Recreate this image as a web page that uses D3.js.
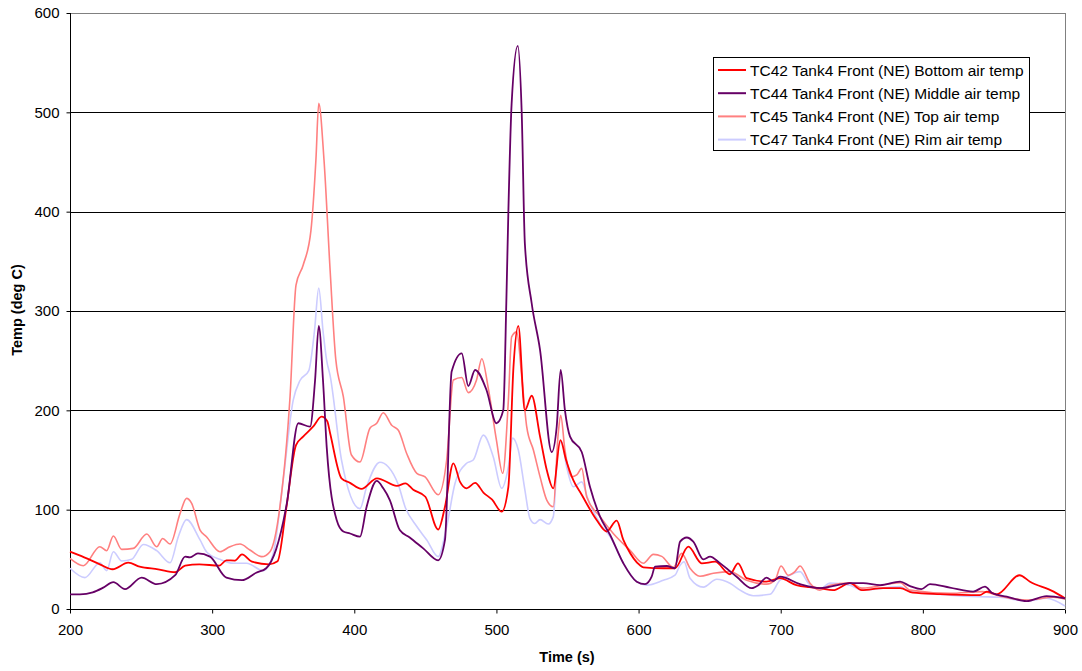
<!DOCTYPE html>
<html>
<head>
<meta charset="utf-8">
<script src="https://cdn.jsdelivr.net/npm/d3@7"></script>
<style>
  body { margin: 0; background: #fff; }
  svg { display: block; font-family: Arial, "Liberation Sans", sans-serif; }
</style>
</head>
<body>
<svg id="chart" width="1082" height="671"></svg>
<script>
// ---- Data ----
const seriesNames = [
  "TC42 Tank4 Front (NE) Bottom air temp",
  "TC44 Tank4 Front (NE) Middle air temp",
  "TC45 Tank4 Front (NE) Top air temp",
  "TC47 Tank4 Front (NE) Rim air temp"
];
const seriesColors = ["#FF0000", "#660066", "#FF8080", "#CCCCFF"];

const xTicks = [200, 300, 400, 500, 600, 700, 800, 900];
const yTicks = [0, 100, 200, 300, 400, 500, 600];

const tc42_t = [200,210,221,230,241,249,262,274,281,291,305,310,316,321,328,340,346,352,359,364,371,377,381,383,391,397,405,416,430,436,441.5,450,459,463.8,469.7,474.4,479,485,491,497,503.7,508.4,512,515.4,520,524.8,530.7,535.4,540,545,549,554,560,570.5,577.5,584.6,589.3,591.6,601,603.4,617.4,625.6,635,644.4,653.8,664.3,670,676,690,699.5,711,720,727.6,736.8,748.7,757,772,784,793,812,840,845,852,868,875.4,892,900];
const tc42_v = [57.7,52,45,40,46.6,42.6,40,37,43.6,45,43.6,49,48.7,55,47.6,45,48,100,165,173.5,183.5,193.6,189,177,131.6,127,121,131.6,124,126.5,120,113,80,103,146.7,128,121.5,127,117,110,98,123,244,285,200,214.7,173.5,140,121.5,170,150,130,115,89.6,78,89,69.5,62.7,44,42,41,41,62.7,46,47.6,35,46,31,27.5,31,24,22,21,19,26,19,21,21,16.4,15,14,17.5,14.8,34,27.5,17.5,10.8];

const tc44_t = [200,207,216,223.4,230.5,238.7,250.4,261,274,281,284.4,290,298.5,310,321,331,338,345,352.5,360.6,368.9,372.4,375,378,380.6,387.6,392.3,397,404,408.7,415.8,420.4,425,432,439,448.5,459,463.8,468.5,475.6,480.2,485,493,500,504.8,507,508.4,510.7,515,517.8,520,524.8,530.7,538.9,542.4,545.2,548.2,551.8,560,565.8,572.9,580,589.3,598.7,604.5,609.2,611.6,619.8,625.6,629.2,633.9,638.5,645.6,650.3,657.3,669,679.6,684.3,690,694.7,699.5,713.6,727.6,748.7,758,770,784,791,799,805,819,835.4,843.7,849,859,873,887,900];
const tc44_v = [14.8,14.8,16.8,21.5,27,20,31.6,25,34,52.7,52,56,52.7,31.6,29,36.5,41,60,106,187,183.5,230,285,230,163,89.6,78,76,72.8,103,128.9,121.5,109.7,79.5,72,61,49,69.5,239,257.4,224.5,240.6,220.5,187,200,311,400,509,567,499,368,307.8,260.7,158,183.5,240.6,200,173.5,158,123,93,74.5,46,27.5,25,32.5,42.6,43.3,41,67.8,72,67.8,50,52.7,46,32.5,21,24,31.6,28,32.5,25,21,26,26,24,27.5,23,20,25,21.5,17.5,22.5,15.8,12.4,8,13,10.8];

const tc45_t = [200,209.4,221,225.8,230.5,236.4,244.5,254,261,265.2,270.4,277.4,282,285.6,291.5,296,305.5,312.5,319.6,326.6,334.9,340.7,347.7,354.8,359,364,369.5,373,375,378.7,383,387,392.3,398,404,411,415.8,420.4,426.3,431,437,444,449.8,459,465,469.7,475.6,480.2,486,489.7,494.3,500,504.4,508.4,510.7,514.3,517.8,521.3,526,530.7,535.4,540,543.5,545.2,548.2,553,556.5,560,563.5,572.9,582.2,594,603.4,610.4,616.3,624.5,630.3,636.2,643.2,652.6,664.3,676,690,696,700.2,705.3,710,713.6,720.6,727.6,734.7,748.7,757,784,791,819,842,854,873,892,900];
const tc45_v = [51,43.6,62.7,58.7,73.5,60,61,75.5,62.7,71,65.4,96,111.4,106.4,79.5,72.8,57.7,62.7,65.4,59.4,52.7,57.7,103,213.7,326,346,381,452,509,452,341,251,213.7,155,148,182,187,197.6,185,180,156,136.6,133,115,150,230.5,233,217.8,230.5,252,222,170,136.6,210,274,279,234,183.5,160,133,109.7,103,177,195,160,133,135,141.6,113,93,76,59,46,55,53,42,56,41,33,36,37.6,29,25,29,43.3,34,37.6,43.3,26,19,24,26.5,21,26.5,19,15.8,17.5,13,9,11.8,9.8];

const tc47_t = [200,210.5,221,225.8,230.5,236.4,243.4,251.6,261,270.4,276.2,282,291.5,296,305.5,314.9,324.3,336,343,350,357,361.8,368,372,375,378,380.6,383,391,404,408.7,418,424,431,435.7,444,451,459,465,470.9,479,483.7,490.8,497.8,503.7,508.4,511.4,515.4,520,523.6,527,530.7,536.5,540,543.5,545.9,549.4,554.1,560,564.6,572.9,580,589.3,598.7,605.7,617.4,625.6,629.2,632,636.2,645.6,655,664.3,671.4,680.7,692.5,699.5,704.2,713.6,719.4,727.6,734.7,748.7,757,784,791,819,840,854,873,887,900];
const tc47_v = [41,31.6,46.6,38.6,57.7,48.3,50,65,58.7,46.6,72.8,90,69.5,57.7,50,46,46,38.6,56,130,210,230,240,280,323,280,250,235,150,101,123,147.7,143,125,103,83,69.5,52.7,83,126.5,146.7,150,175,153,121.5,143,172,160,120,91,86,90,85.6,93,163,168.5,143,123,128,109.7,86,72.8,46,27.5,24,29,34,44,47.6,31,22,30,26,19,13.4,14.8,29,32.5,37.6,26,20,26,24,19,22.5,17.5,14,12.4,11.8,8,10.8,3];

const allT = [tc42_t, tc44_t, tc45_t, tc47_t];
const allV = [tc42_v, tc44_v, tc45_v, tc47_v];

// ---- Layout ----
const svg = d3.select("#chart");
const pLeft = 70, pRight = 1065, pTop = 13, pBottom = 609;
const FONT = "Arial, 'Liberation Sans', sans-serif";

const x = d3.scaleLinear().domain([200, 900]).range([pLeft, pRight]);
const y = d3.scaleLinear().domain([0, 600]).range([pBottom, pTop]);

// gridlines
svg.append("g").selectAll("line").data(yTicks.filter(d => d > 0)).join("line")
  .attr("x1", pLeft).attr("x2", pRight)
  .attr("y1", d => Math.round(y(d)) + 0.5).attr("y2", d => Math.round(y(d)) + 0.5)
  .attr("stroke", d => d === 600 ? "#808080" : "#000").attr("stroke-width", 1);

// right border
svg.append("line").attr("x1", pRight + 0.5).attr("x2", pRight + 0.5)
  .attr("y1", pTop).attr("y2", pBottom).attr("stroke", "#808080");

// axes
const xAxis = d3.axisBottom(x).tickValues(xTicks).tickSize(4).tickPadding(11).tickFormat(d3.format("d"));
const gx = svg.append("g").attr("transform", `translate(0,${pBottom + 0.5})`).call(xAxis);
gx.select(".domain").attr("d", `M${pLeft},0H${pRight}`).attr("stroke", "#000");
gx.selectAll("text").attr("font-size", 15).attr("font-family", FONT).attr("fill", "#000");

const yAxis = d3.axisLeft(y).tickValues(yTicks).tickSize(4).tickPadding(7).tickFormat(d3.format("d"));
const gy = svg.append("g").attr("transform", `translate(${pLeft + 0.5},0)`).call(yAxis);
gy.select(".domain").attr("d", `M0,${pTop}V${pBottom}`).attr("stroke", "#000");
gy.selectAll("text").attr("font-size", 15).attr("font-family", FONT).attr("fill", "#000");

// series lines
const line = d3.line().x(d => x(d[0])).y(d => y(d[1])).curve(d3.curveMonotoneX);
const drawOrder = [3, 2, 0, 1];
drawOrder.forEach(i => {
  const pts = allT[i].map((t, k) => [t, allV[i][k]]);
  svg.append("path").datum(pts)
    .attr("d", line)
    .attr("fill", "none")
    .attr("stroke", seriesColors[i])
    .attr("stroke-width", i < 2 ? 1.8 : 1.6)
    .attr("stroke-linejoin", "round");
});

// axis titles
svg.append("text").attr("x", 567).attr("y", 662)
  .attr("text-anchor", "middle").attr("font-size", 14.5).attr("font-weight", "bold")
  .attr("font-family", FONT).text("Time (s)");
svg.append("text").attr("transform", "translate(22,310) rotate(-90)")
  .attr("text-anchor", "middle").attr("font-size", 14.5).attr("font-weight", "bold")
  .attr("font-family", FONT).text("Temp (deg C)");

// legend
const lg = svg.append("g");
lg.append("rect").attr("x", 713.5).attr("y", 57.5).attr("width", 316).attr("height", 93)
  .attr("fill", "#fff").attr("stroke", "#000");
seriesNames.forEach((name, i) => {
  const yy = 70 + i * 23.2;
  lg.append("line").attr("x1", 718).attr("x2", 746).attr("y1", yy).attr("y2", yy)
    .attr("stroke", seriesColors[i]).attr("stroke-width", 2);
  lg.append("text").attr("x", 750).attr("y", yy + 5.5).attr("font-size", 15.5)
    .attr("font-family", FONT).attr("fill", "#000").text(name);
});
</script>
</body>
</html>
